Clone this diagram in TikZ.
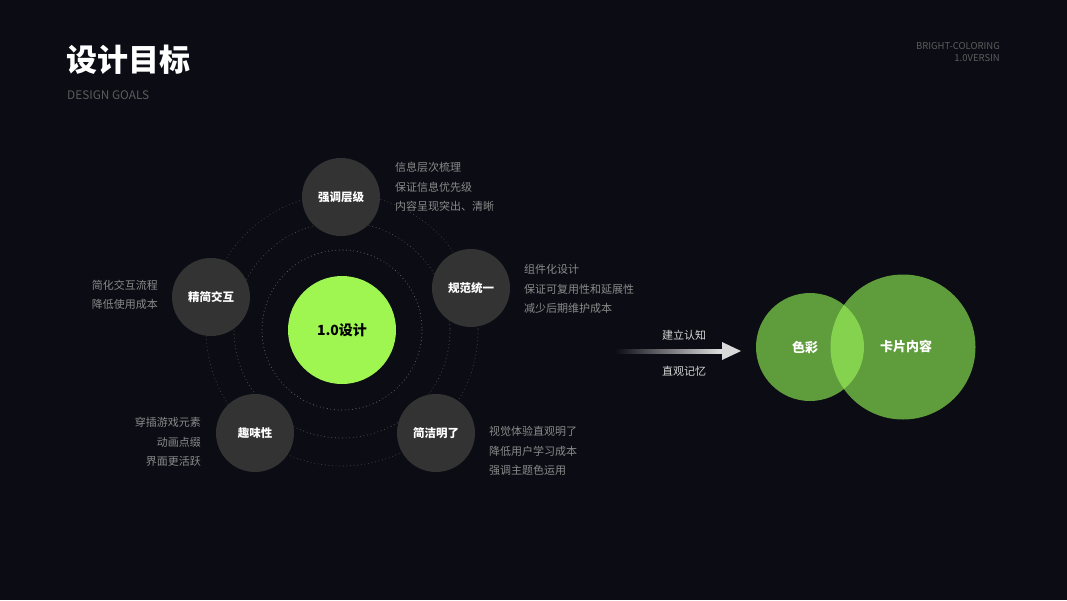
\documentclass[tikz,border=0pt]{standalone}
\usepackage{fontspec}
\setmainfont{Noto Sans CJK SC}
\usetikzlibrary{calc}
\definecolor{bg}{HTML}{0B0C14}
\definecolor{satfill}{HTML}{333333}
\definecolor{lime}{HTML}{A0F650}
\definecolor{sidegray}{HTML}{8A8A8A}
\definecolor{dimgray}{HTML}{5C5C5C}
\definecolor{ringA}{HTML}{606060}
\definecolor{ringB}{HTML}{4E4E4E}
\definecolor{ringC}{HTML}{3E3E3E}
\definecolor{venn}{HTML}{5F9C3C}
\definecolor{vennmid}{HTML}{84D24E}
\definecolor{arrowtxt}{HTML}{D6D6D6}
\begin{document}
\begin{tikzpicture}[x=1pt,y=-1pt,
  sat/.style={circle,fill=satfill,minimum size=78pt,inner sep=0pt,text=white,font=\bfseries\fontsize{11.5}{13}\selectfont},
  side/.style={text=sidegray,font=\fontsize{11}{19.5}\selectfont,inner sep=0pt},
  ring/.style={line width=1.1pt,line cap=round,dash pattern=on 0pt off 3.6pt},
  vennc/.style={circle,fill=venn,inner sep=0pt,text=white,font=\bfseries\fontsize{13}{15}\selectfont},
  arrlabel/.style={text=arrowtxt,font=\fontsize{11}{13}\selectfont,inner sep=0pt}]
\fill[bg] (0,0) rectangle (1067,600);
\useasboundingbox (0,0) rectangle (1067,600);

% header
\node[anchor=west,text=white,font=\bfseries\fontsize{31}{34}\selectfont,inner sep=0pt] (title) at (66,60) {设计目标};
\node[anchor=west,text=dimgray,font=\fontsize{11.8}{13}\selectfont,inner sep=0pt] (subtitle) at (67,95) {DESIGN GOALS};
\node[anchor=east,align=right,text=dimgray,font=\fontsize{9.5}{12}\selectfont,inner sep=0pt] (ver) at (1000,52) {BRIGHT-COLORING\\1.0VERSIN};

% center and rings
\coordinate (ctr) at (342,330);
\draw[ring,ringC] (ctr) circle[radius=136];
\draw[ring,ringB] (ctr) circle[radius=108];
\draw[ring,ringA] (ctr) circle[radius=80];
\node[circle,fill=lime,minimum size=108pt,inner sep=0pt,text=black,font=\bfseries\fontsize{14}{16}\selectfont] (core) at (ctr) {1.0设计};

% satellites
\node[sat] (s1) at (341,197) {强调层级};
\node[sat] (s2) at (471,288) {规范统一};
\node[sat] (s3) at (211,297) {精简交互};
\node[sat] (s4) at (255,433) {趣味性};
\node[sat] (s5) at (436,433) {简洁明了};

% side texts
\node[side,anchor=west,align=left] (t1) at (395,187) {信息层次梳理\\保证信息优先级\\内容呈现突出、清晰};
\node[side,anchor=west,align=left] (t2) at (524,289) {组件化设计\\保证可复用性和延展性\\减少后期维护成本};
\node[side,anchor=east,align=right] (t3) at (158,295) {简化交互流程\\降低使用成本};
\node[side,anchor=east,align=right] (t4) at (201,442) {穿插游戏元素\\动画点缀\\界面更活跃};
\node[side,anchor=west,align=left] (t5) at (489,451) {视觉体验直观明了\\降低用户学习成本\\强调主题色运用};

% arrow
\coordinate (arrS) at (615,351);
\coordinate (arrE) at (741,351);
\shade[left color=bg,right color=white!88!black] ($(arrS)+(0,-2)$) rectangle ($(arrE)+(-19,2)$);
\fill[white!85!black] ($(arrE)+(-19,-9)$) -- (arrE) -- ($(arrE)+(-19,9)$) -- cycle;
\node[arrlabel] (a1) at (684,335) {建立认知};
\node[arrlabel] (a2) at (684,371) {直观记忆};

% venn
\node[vennc,minimum size=108pt] (v1) at (810,347) {};
\node[vennc,minimum size=145pt] (v2) at (903,347) {};
\begin{scope}
  \clip (v1.center) circle[radius=54];
  \fill[vennmid] (v2.center) circle[radius=72.5];
\end{scope}
\node[text=white,font=\bfseries\fontsize{13}{15}\selectfont,inner sep=0pt] (l1) at (805,347) {色彩};
\node[text=white,font=\bfseries\fontsize{13}{15}\selectfont,inner sep=0pt] (l2) at (906,347) {卡片内容};
\end{tikzpicture}
\end{document}
